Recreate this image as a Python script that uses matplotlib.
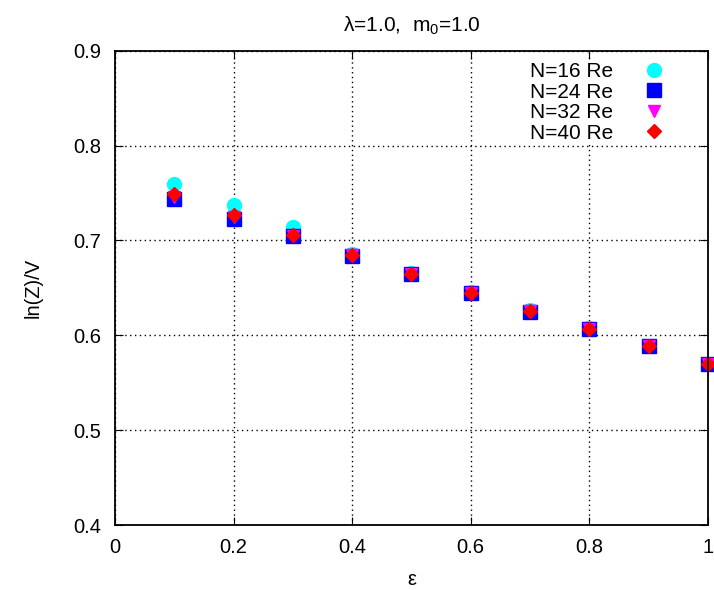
import numpy as np
import matplotlib
matplotlib.use('Agg')
from matplotlib import pyplot as plt

plt.rcParams['font.family'] = ['Liberation Sans', 'DejaVu Sans']
plt.rcParams['mathtext.default'] = 'regular'

eps = [0.1, 0.2, 0.3, 0.4, 0.5, 0.6, 0.7, 0.8, 0.9, 1.0]
n16 = [0.760, 0.737, 0.714, 0.686, 0.666, 0.646, 0.627, 0.608, 0.589, 0.570]
n24 = [0.744, 0.723, 0.705, 0.684, 0.665, 0.645, 0.625, 0.607, 0.589, 0.570]
n32 = [0.746, 0.725, 0.705, 0.685, 0.665, 0.645, 0.626, 0.607, 0.589, 0.570]
n40 = [0.749, 0.727, 0.706, 0.685, 0.665, 0.645, 0.626, 0.607, 0.589, 0.570]

fig = plt.figure(figsize=(7.14, 5.9), dpi=100)
ax = fig.add_axes([0.161, 0.110, 0.8305, 0.804])

ax.plot(eps, n16, 'o', color='cyan', ms=10, label='N=16 Re', clip_on=False)
ax.plot(eps, n24, 's', color='blue', ms=10, label='N=24 Re', clip_on=False)
ax.plot(eps, n32, 'v', color='magenta', ms=8, label='N=32 Re', clip_on=False)
ax.plot(eps, n40, 'D', color='red', ms=7, label='N=40 Re', clip_on=False)

ax.set_xlim(0, 1)
ax.set_ylim(0.4, 0.9)
ax.set_xticks([0, 0.2, 0.4, 0.6, 0.8, 1])
ax.set_xticklabels(['0', '0.2', '0.4', '0.6', '0.8', '1'])
ax.set_yticks([0.4, 0.5, 0.6, 0.7, 0.8, 0.9])
ax.grid(True, color='black', linestyle=(0, (1, 2.5)), linewidth=1)
ax.tick_params(direction='in', top=True, right=True, labelsize=14.5, length=6)
ax.tick_params(axis='y', pad=10)
ax.tick_params(axis='x', pad=9)
for s in ax.spines.values():
    s.set_linewidth(1.3)

ax.set_xlabel('ε', fontsize=14.5, labelpad=10)
ax.set_ylabel('ln(Z)/V', fontsize=14.5, labelpad=22)
ax.set_title('λ=1.0,  m$_0$=1.0', fontsize=15, pad=14)

leg = ax.legend(loc='upper right', frameon=True, markerfirst=False, fontsize=15,
                handletextpad=0.95, labelspacing=0.07, borderaxespad=0.05,
                borderpad=0.05, fancybox=False, framealpha=1,
                bbox_to_anchor=(0.947, 0.98))
leg.get_frame().set_edgecolor('none')
leg.get_frame().set_facecolor('white')

fig.savefig('out.png', dpi=100)
